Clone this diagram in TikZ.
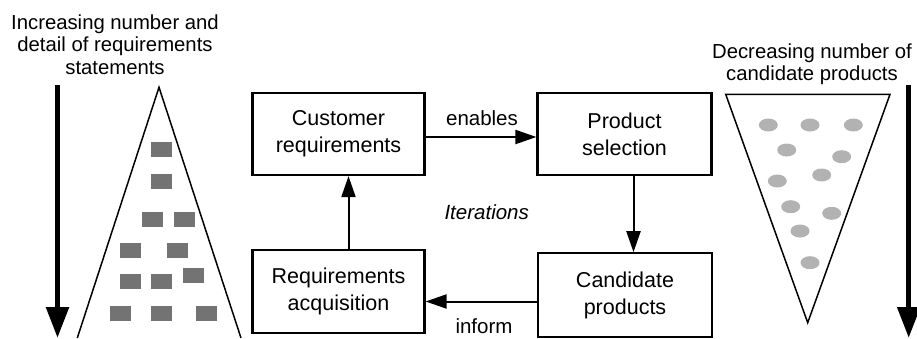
\documentclass[tikz,border=0pt]{standalone}
\usepackage{fontspec}
\setmainfont{Liberation Sans}
\usetikzlibrary{arrows.meta}
\begin{document}
\begin{tikzpicture}[x=1pt,y=-1pt,
  box/.style={draw, line width=2.2pt, minimum width=172pt, minimum height=82pt,
    align=center, inner sep=0pt, font=\fontsize{21.5}{27}\selectfont},
  flow/.style={line width=2pt, -{Triangle[length=21pt,width=14pt]}},
  lbl/.style={font=\fontsize{20.5}{24}\selectfont, anchor=base, inner sep=0pt},
  ttl/.style={font=\fontsize{20.3}{24}\selectfont, anchor=base, inner sep=0pt},
  bigarrow/.style={line width=5.5pt, -{Triangle[length=31pt,width=22pt]}},
  cone/.style={line width=1.5pt, line join=miter},
  reqmark/.style={fill=black!55},
  candmark/.style={fill=black!30}]
\useasboundingbox (0,0) rectangle (917,338);

% process boxes
\node[box] (cust) at (338.5,134) {Customer\\requirements};
\node[box, minimum width=174pt] (sel) at (624.5,134) {Product\\selection};
\node[box, minimum height=83pt] (acq) at (338.5,291.5) {Requirements\\acquisition};
\node[box, minimum width=173.4pt, minimum height=83.4pt] (cand) at (625,295) {Candidate\\products};

% cycle connectors
\draw[flow] ([yshift=-3pt]cust.east) -- ([yshift=-3pt]cust.east -| sel.west);
\draw[flow] ([xshift=9pt]sel.south) -- ([xshift=9pt]sel.south |- cand.north);
\draw[flow] ([yshift=-6.5pt]cand.west) -- ([yshift=-6.5pt]cand.west -| acq.east);
\draw[flow] ([xshift=10pt]acq.north) -- ([xshift=10pt]acq.north |- cust.south);

\node[lbl] (enables) at (482,125) {enables};
\node[lbl] (inform) at (484,333.3) {inform};
\node[lbl, font=\fontsize{20.5}{24}\selectfont\itshape] (iter) at (486.7,219) {Iterations};

% left: requirements pyramid
\node[ttl] (lt1) at (115,29.3) {Increasing number and};
\node[ttl] (lt2) at (115,51.7) {detail of requirements};
\node[ttl] (lt3) at (115,74) {statements};
\coordinate (ltop) at (57.5,85);
\coordinate (lend) at (57.5,338);
\draw[bigarrow] (ltop) -- (lend);
\draw[cone] (77.3,338) -- (159,87.3) -- (241,338);
\foreach \x/\y in {161.7/149.3, 161.7/181.7, 152.3/219, 184/219,
                   130/250, 177.7/250, 130/281.7, 161.7/281.7, 193.7/275,
                   120.7/313.3, 161.7/313.3, 206/313.3}
  \fill[reqmark] (\x-10.5,\y-7.5) rectangle (\x+10.5,\y+7.5);

% right: candidate funnel
\node[ttl] (rt1) at (812,58.3) {Decreasing number of};
\node[ttl] (rt2) at (812,80) {candidate products};
\coordinate (rtop) at (908.7,85);
\coordinate (rend) at (908.7,338);
\draw[bigarrow] (rtop) -- (rend);
\draw[cone] (725.7,94.3) -- (890,94.3) -- (807.7,322.7) -- cycle;
\foreach \x/\y in {768.3/125, 810/125, 853.3/125, 786.7/150, 841.7/156.7,
                   777.3/181, 821.7/175, 790.7/206.7, 831.7/213.3,
                   800/231, 810/262.7}
  \fill[candmark] (\x,\y) ellipse [x radius=9.5, y radius=6.5];
\end{tikzpicture}
\end{document}
